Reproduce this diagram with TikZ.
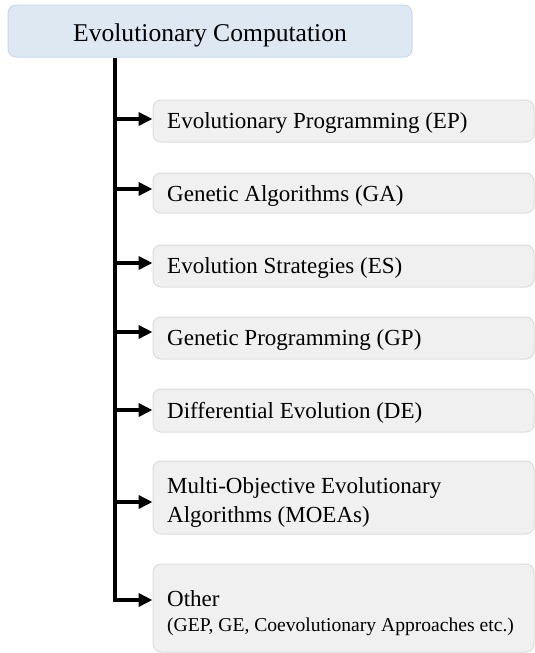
\documentclass[tikz,border=0pt]{standalone}
\usepackage{fontspec}
\setmainfont{Liberation Serif}
\usetikzlibrary{arrows.meta}
\definecolor{rootfill}{HTML}{DDE8F3}
\definecolor{rootedge}{HTML}{CAD9E9}
\definecolor{leaffill}{HTML}{F0F0F0}
\definecolor{leafedge}{HTML}{DDDDDD}
\begin{document}
\begin{tikzpicture}[x=1pt,y=-1pt,
  rootbox/.style={draw=rootedge, fill=rootfill, line width=1pt, rounded corners=8pt,
    minimum width=404pt, inner sep=0pt},
  leafbox/.style={draw=leafedge, fill=leaffill, line width=1pt, rounded corners=8pt,
    minimum width=381pt, inner sep=0pt},
  roottext/.style={anchor=base, inner sep=0pt, font=\fontsize{25.6}{30}\selectfont},
  leaftext/.style={anchor=base west, inner sep=0pt, font=\fontsize{23}{29}\selectfont},
  smalltext/.style={anchor=base west, inner sep=0pt, font=\fontsize{19.6}{24}\selectfont},
  branch/.style={line width=4pt, line join=miter,
    -{Triangle[length=14pt,width=13pt]}},
]
\useasboundingbox (0,0) rectangle (535,653);

% root
\node[rootbox, minimum height=52pt] (root) at (210,31) {};
\node[roottext] (root-t) at (210,41.5) {Evolutionary Computation};

% branches
\node[leafbox, minimum height=42pt] (ep)    at (343.5,121)   {};
\node[leafbox, minimum height=40pt] (ga)    at (343.5,193)   {};
\node[leafbox, minimum height=42pt] (es)    at (343.5,266)   {};
\node[leafbox, minimum height=42pt] (gp)    at (343.5,338)   {};
\node[leafbox, minimum height=43pt] (de)    at (343.5,410.5) {};
\node[leafbox, minimum height=73pt] (moea)  at (343.5,497.5) {};
\node[leafbox, minimum height=88pt] (other) at (343.5,608)   {};

\node[leaftext] (ep-t)    at (167,128.5) {Evolutionary Programming (EP)};
\node[leaftext] (ga-t)    at (167,201)   {Genetic Algorithms (GA)};
\node[leaftext] (es-t)    at (167,273.5) {Evolution Strategies (ES)};
\node[leaftext] (gp-t)    at (167,345.5) {Genetic Programming (GP)};
\node[leaftext] (de-t)    at (167,418)   {Differential Evolution (DE)};
\node[leaftext] (moea-t1) at (167,493)   {Multi-Objective Evolutionary};
\node[leaftext] (moea-t2) at (167,522)   {Algorithms (MOEAs)};
\node[leaftext] (other-t1) at (167,606.5) {Other};
\node[smalltext] (other-t2) at (167,631)  {(GEP, GE, Coevolutionary Approaches etc.)};

% arrow entry points on the left side of each box
\coordinate (ep-in)    at ([yshift=2pt]ep.west);
\coordinate (ga-in)    at ([yshift=4pt]ga.west);
\coordinate (es-in)    at ([yshift=3pt]es.west);
\coordinate (gp-in)    at ([yshift=6pt]gp.west);
\coordinate (de-in)    at ([yshift=0.5pt]de.west);
\coordinate (moea-in)  at ([yshift=-4.5pt]moea.west);
\coordinate (other-in) at ([yshift=8pt]other.west);

% connectors
\coordinate (trunk) at ([xshift=-95pt]root.south);
\draw[branch] (trunk) |- (other-in);
\foreach \b in {ep,ga,es,gp,de,moea}
  \draw[branch] (trunk |- \b-in) -- (\b-in);
\end{tikzpicture}
\end{document}
